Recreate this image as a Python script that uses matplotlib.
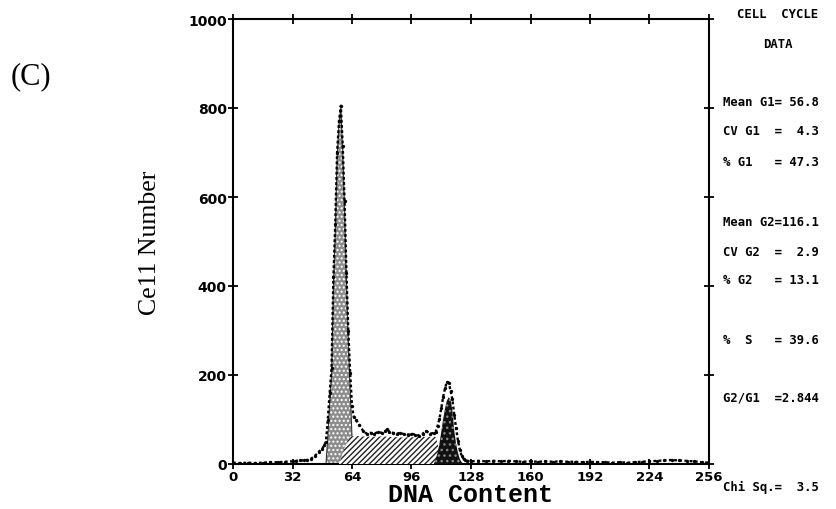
import matplotlib
matplotlib.use("Agg")
import matplotlib.pyplot as plt

# ---------------- data ----------------
# total measured histogram (DNA channel, cell count)
hist_ch = [0, 4, 8, 12, 16, 20, 24, 28, 32, 34, 36, 38, 40, 42, 44, 46, 48, 49,
           50, 51, 52, 53, 54, 55, 56, 57, 58, 59, 60, 61, 62, 63, 64, 65, 66,
           68, 70, 72, 74, 76, 78, 80, 82, 83, 84, 86, 88, 90, 92, 94, 96, 98,
           100, 102, 104, 106, 108, 109, 110, 111, 112, 113, 114, 115, 116, 117,
           118, 119, 120, 121, 122, 123, 124, 125, 126, 128, 132, 136, 140, 144,
           148, 152, 156, 160, 164, 168, 172, 176, 180, 184, 188, 192, 196, 200,
           204, 208, 212, 216, 220, 224, 228, 232, 236, 240, 244, 248, 252, 256]
hist_n = [3, 2, 3, 2, 3, 4, 4, 5, 6, 7, 8, 8, 9, 12, 18, 27, 34, 42,
          50, 100, 160, 215, 420, 540, 700, 770, 805, 715, 590, 430, 300, 205, 130, 105, 100,
          88, 74, 68, 70, 68, 72, 70, 74, 79, 72, 70, 68, 70, 67, 66, 68, 66,
          64, 68, 74, 68, 70, 72, 85, 101, 125, 150, 170, 184, 183, 165,
          145, 110, 80, 52, 32, 18, 12, 9, 7, 6, 7, 6, 7, 6,
          7, 6, 5, 6, 5, 6, 5, 6, 5, 5, 4, 5, 4, 4,
          3, 4, 3, 4, 5, 6, 7, 8, 9, 8, 7, 6, 4, 3]

# fitted G1 peak
g1_ch = [50, 51, 52, 53, 54, 55, 56, 57, 58, 59, 60, 61, 62, 63, 64, 65]
g1_n = [0, 60, 140, 200, 400, 520, 690, 765, 800, 705, 575, 415, 280, 170, 60, 0]

# fitted S phase
s_ch = [57, 58, 59, 60, 61, 62, 63, 66, 70, 75, 80, 85, 90, 95, 100, 105, 109, 111, 112]
s_n = [0, 12, 25, 36, 47, 56, 62, 63, 62, 61, 62, 61, 60, 60, 61, 61, 61, 30, 0]

# fitted G2 peak
g2_ch = [108, 109, 110, 111, 112, 113, 114, 115, 116, 117, 118, 119, 120, 121, 122, 123, 124]
g2_n = [0, 10, 25, 45, 72, 100, 124, 142, 150, 145, 120, 75, 45, 25, 11, 4, 0]

x_ticks = [0, 32, 64, 96, 128, 160, 192, 224, 256]
y_ticks = [0, 200, 400, 600, 800, 1000]

panel_lines = [
    ("CELL  CYCLE", 15, "center"),
    ("DATA", 44, "center"),
    ("Mean G1= 56.8", 103, "left"),
    ("CV G1  =  4.3", 132, "left"),
    ("% G1   = 47.3", 162, "left"),
    ("Mean G2=116.1", 222, "left"),
    ("CV G2  =  2.9", 252, "left"),
    ("% G2   = 13.1", 281, "left"),
    ("%  S   = 39.6", 341, "left"),
    ("G2/G1  =2.844", 398, "left"),
    ("Chi Sq.=  3.5", 487, "left"),
]

# ---------------- figure ----------------
W, H = 836, 510
fig = plt.figure(figsize=(W / 100, H / 100), dpi=100)
ax = fig.add_axes([233 / W, 1 - 465 / H, (709 - 233) / W, (465 - 20) / H])

plt.rcParams['hatch.linewidth'] = 1.0

ax.fill_between(g1_ch, g1_n, 0, facecolor="#8c8c8c", edgecolor="white",
                hatch="....", linewidth=0, zorder=2)
ax.plot(g1_ch, g1_n, color="#333333", lw=0.8, zorder=2.5)
ax.fill_between(s_ch, s_n, 0, facecolor="white", edgecolor="#222222",
                hatch="//////", linewidth=0, zorder=3)
ax.fill_between(g2_ch, g2_n, 0, facecolor="#111111", edgecolor="#8a8a8a",
                hatch="...", linewidth=0, zorder=4)
ax.plot(hist_ch, hist_n, color="black", lw=1.7, ls=(0, (1.2, 1.0)),
        marker="o", ms=2.4, mew=0, zorder=5)

ax.set_xlim(0, 256)
ax.set_ylim(0, 1000)
ax.set_xticks(x_ticks)
ax.set_xticklabels([str(v) for v in x_ticks])
ax.set_yticks(y_ticks)
ax.set_yticklabels([str(v) for v in y_ticks])
for sp in ax.spines.values():
    sp.set_linewidth(1.5)
    sp.set_color("black")
ax.tick_params(axis="both", which="major", direction="inout", length=7, width=1.3,
               top=True, right=True, labelsize=10, colors="black")
ax.tick_params(axis="x", pad=0.5, labelsize=9.5)
ax.tick_params(axis="y", pad=1)
for lab in ax.get_xticklabels() + ax.get_yticklabels():
    lab.set_fontfamily("DejaVu Sans")
    lab.set_fontweight("bold")

fig.text(150 / W, 1 - 243 / H, "Ce11 Number", rotation=90, ha="center", va="center",
         family="Liberation Serif", fontsize=18.5)
fig.text(471 / W, 1 - 502 / H, "DNA Content", ha="center", va="baseline",
         family="Liberation Mono", fontweight="bold", fontsize=18)
fig.text(31 / W, 1 - 77 / H, "(C)", ha="center", va="center",
         family="Liberation Serif", fontsize=22)

for txt, ypix, ha in panel_lines:
    xpix = 778 if ha == "center" else 723
    fig.text(xpix / W, 1 - ypix / H, txt, ha=ha, va="center",
             family="DejaVu Sans Mono", fontweight="bold", fontsize=8.8)

fig.savefig("out.png", dpi=100)
